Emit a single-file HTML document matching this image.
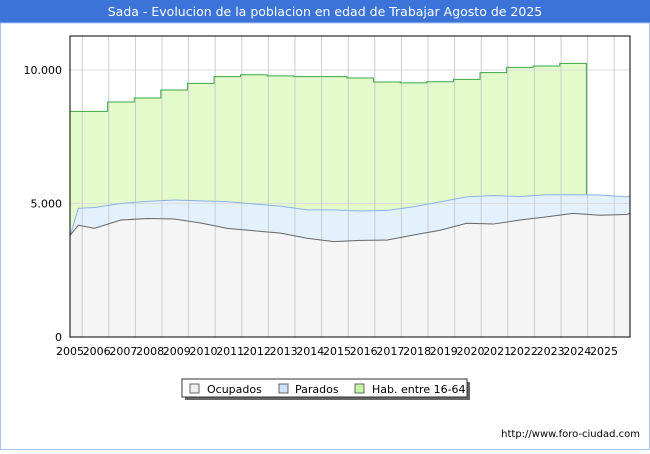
<!DOCTYPE html>
<html><head><meta charset="utf-8"><style>
body{margin:0;background:#fff;font-family:"DejaVu Sans","Liberation Sans",sans-serif}
</style></head><body>
<svg width="650" height="450" viewBox="0 0 650 450" xmlns="http://www.w3.org/2000/svg" font-family="DejaVu Sans, Liberation Sans, sans-serif">
<rect width="650" height="450" fill="#fff"/>
<rect x="0" y="0" width="650" height="23" fill="#3b73d9"/>
<text x="325" y="16" text-anchor="middle" fill="#fff" font-size="12.5">Sada - Evolucion de la poblacion en edad de Trabajar Agosto de 2025</text>
<rect x="0.5" y="23" width="649" height="426.5" fill="none" stroke="#aac4ee" stroke-width="1"/>
<g id="plot"></g>
<g>
<rect x="185" y="382" width="285" height="18" fill="#666"/>
<rect x="182" y="379" width="285" height="18" fill="#fff" stroke="#333"/>
<rect x="190" y="384" width="9" height="9" fill="#eee" stroke="#666"/>
<text x="207" y="393" font-size="11">Ocupados</text>
<rect x="279" y="384" width="9" height="9" fill="#cde3f8" stroke="#666"/>
<text x="295" y="393" font-size="11">Parados</text>
<rect x="355" y="384" width="9" height="9" fill="#c6f5a3" stroke="#666"/>
<text x="372" y="393" font-size="11">Hab. entre 16-64</text>
</g>
<text x="640" y="437" text-anchor="end" font-size="10">http://www.foro-ciudad.com</text>
</svg>
<script>
const habYears=[2004.6,2006,2007,2008,2009,2010,2011,2012,2013,2014,2015,2016,2017,2018,2019,2020,2021,2022,2023];
const habValues=[8450,8800,8950,9250,9500,9750,9820,9780,9750,9750,9700,9550,9520,9560,9650,9900,10100,10150,10250];
const habEnd=2024;
const bandYears=[2004.6,2004.9,2005.5,2006.5,2007.5,2008.5,2009.5,2010.5,2011.5,2012.5,2013.5,2014.5,2015.5,2016.5,2017.5,2018.5,2019.5,2020.5,2021.5,2022.5,2023.5,2024.5,2025.5,2026.05];
const paradosValues=[3820,4820,4850,5000,5080,5130,5100,5070,4980,4900,4760,4760,4720,4740,4880,5060,5250,5300,5260,5330,5330,5320,5250,5280];
const ocupadosValues=[3820,4190,4070,4380,4440,4420,4270,4070,3980,3890,3700,3570,3620,3630,3820,4000,4260,4230,4380,4500,4630,4560,4590,4620];
const yTicks=[0,5000,10000];
const yTickLabels=["0","5.000","10.000"];
const xLabels=["2005","2006","2007","2008","2009","2010","2011","2012","2013","2014","2015","2016","2017","2018","2019","2020","2021","2022","2023","2024","2025"];
const L=70,R=630,T=36,B=337;
const x=y=>Math.max(L,Math.min(R,81+(y-2005)*26.6));
const yv=v=>B-v*(B-70)/10000;
const NS="http://www.w3.org/2000/svg";
const g=document.getElementById('plot');
function mk(t,a){const e=document.createElementNS(NS,t);for(const k in a)e.setAttribute(k,a[k]);g.appendChild(e);return e;}
let hp=`M${x(habYears[0])},${B}`;
habYears.forEach((yr,i)=>{const nx=i<habYears.length-1?habYears[i+1]:habEnd;hp+=` L${x(yr)},${yv(habValues[i])} L${x(nx)},${yv(habValues[i])}`;});
hp+=` L${x(habEnd)},${B} Z`;
const ha=mk('path',{d:hp,fill:'#e3fbcb'});


const pp=bandYears.map((yr,i)=>`${x(yr)},${yv(paradosValues[i])}`).join(' L');
const op=bandYears.map((yr,i)=>`${x(yr)},${yv(ocupadosValues[i])}`).join(' L');
const pa=mk('path',{d:`M${x(bandYears[0])},${B} L${pp} L${x(bandYears[bandYears.length-1])},${B} Z`,fill:'#e3f1fd'});


const oa=mk('path',{d:`M${x(bandYears[0])},${B} L${op} L${x(bandYears[bandYears.length-1])},${B} Z`,fill:'#f5f5f5'});


yTicks.forEach((v,i)=>{
 const ln=mk('line',{x1:L,x2:R,y1:yv(v),y2:yv(v),stroke:'#ddd'});
 
 
 const t=mk('text',{x:L-8,y:yv(v)+4,'text-anchor':'end','font-size':11});
 
 
 t.textContent=yTickLabels[i];
});
for(let k=0;k<=20;k++){const gx=614.2-26.6*k;if(gx<=L)break;
 const ln=mk('line',{x1:gx,x2:gx,y1:T,y2:B,stroke:'#ccc'});
 
 }
let hl='';
habYears.forEach((yr,i)=>{const nx=i<habYears.length-1?habYears[i+1]:habEnd;hl+=`${i?' L':'M'}${x(yr)},${yv(habValues[i])} L${x(nx)},${yv(habValues[i])}`;});
hl+=` L${x(habEnd)},${yv(paradosValues[21])}`;
const hln=mk('path',{d:hl,fill:'none',stroke:'#3aa84a','stroke-width':1});


const pl=mk('path',{d:'M'+pp,fill:'none',stroke:'#8ab2ea','stroke-width':1});


const ol=mk('path',{d:'M'+op,fill:'none',stroke:'#666','stroke-width':1});


const fr=mk('rect',{x:L,y:T,width:R-L,height:B-T,fill:'none',stroke:'#000'});


xLabels.forEach((s,i)=>{const t=mk('text',{x:L+i*26.7,y:355,'text-anchor':'middle','font-size':11});
 
 
 t.textContent=s;});
</script>
</body></html>
